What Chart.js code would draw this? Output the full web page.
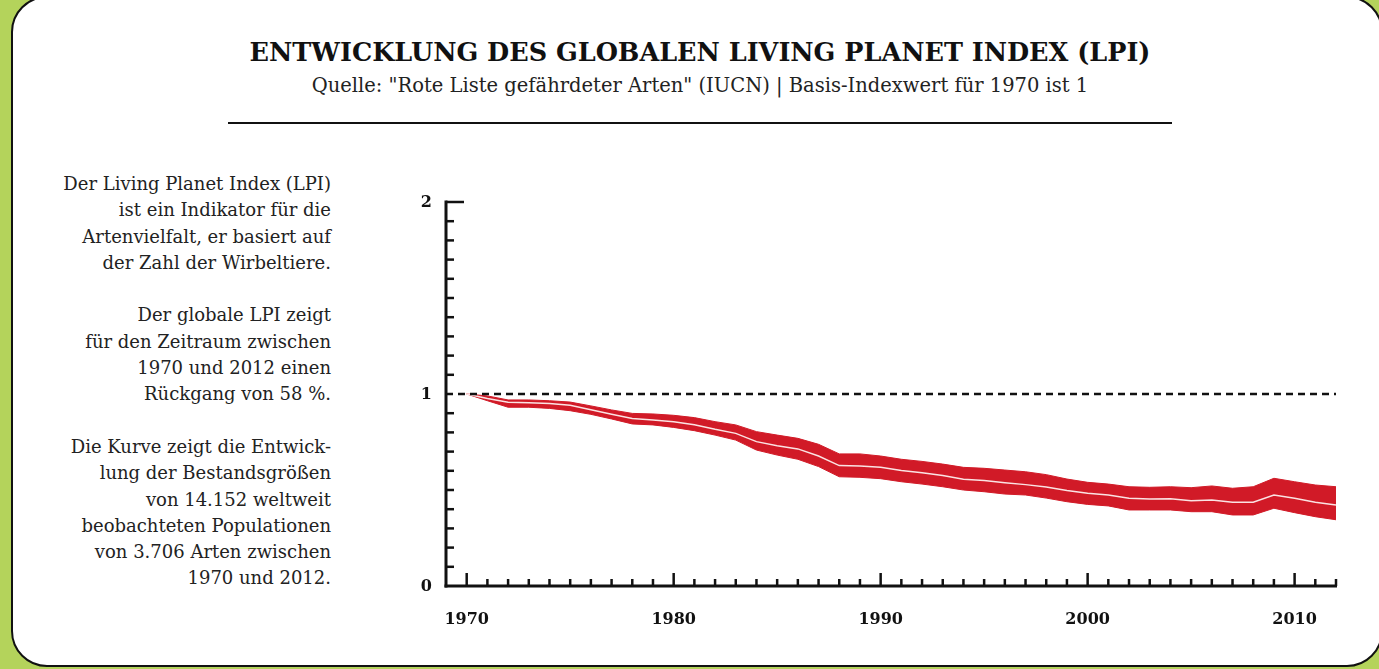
<!DOCTYPE html>
<html>
<head>
<meta charset="utf-8">
<script src="https://cdn.jsdelivr.net/npm/chart.js@4"></script>
<style>
html, body { margin: 0; padding: 0; width: 1379px; height: 669px; overflow: hidden; background: #b4d35b; }
#box { position: absolute; left: 11px; top: -4px; width: 1372px; height: 671px; box-sizing: border-box;
       background: #fff; border: 2px solid #111; border-radius: 36px; }
#title { position: absolute; left: 0; width: 1400px; top: 37px; text-align: center;
         font: bold 25.5px "DejaVu Serif", serif; color: #111; }
#subtitle { position: absolute; left: 0; width: 1400px; top: 74px; text-align: center;
            font: 19.5px "DejaVu Serif", serif; color: #222; }
#rule { position: absolute; left: 228px; top: 122px; width: 944px; height: 2px; background: #111; }
#intro { position: absolute; right: 1048px; top: 171px; text-align: right;
         font: 18px "DejaVu Serif", serif; line-height: 26.3px; color: #222; }
#intro p { margin: 0 0 26.3px 0; }
canvas { position: absolute; left: 0; top: 0; }
</style>
</head>
<body>
<div id="box"></div>
<div id="title">ENTWICKLUNG DES GLOBALEN LIVING PLANET INDEX (LPI)</div>
<div id="subtitle">Quelle: "Rote Liste gefährdeter Arten" (IUCN) | Basis-Indexwert für 1970 ist 1</div>
<div id="rule"></div>
<div id="intro">
  <p>Der Living Planet Index (LPI)<br>ist ein Indikator für die<br>Artenvielfalt, er basiert auf<br>der Zahl der Wirbeltiere.</p>
  <p>Der globale LPI zeigt<br>für den Zeitraum zwischen<br>1970 und 2012 einen<br>Rückgang von 58 %.</p>
  <p>Die Kurve zeigt die Entwick-<br>lung der Bestandsgrößen<br>von 14.152 weltweit<br>beobachteten Populationen<br>von 3.706 Arten zwischen<br>1970 und 2012.</p>
</div>
<canvas id="lpiChart" width="1379" height="669"></canvas>

<script>
// data
var years = [1970, 1971, 1972, 1973, 1974, 1975, 1976, 1977, 1978, 1979,
    1980, 1981, 1982, 1983, 1984, 1985, 1986, 1987, 1988, 1989,
    1990, 1991, 1992, 1993, 1994, 1995, 1996, 1997, 1998, 1999,
    2000, 2001, 2002, 2003, 2004, 2005, 2006, 2007, 2008, 2009,
    2010, 2011, 2012];

var lpiIndex = [1.000, 0.977, 0.957, 0.955, 0.951, 0.941, 0.918, 0.894, 0.872, 0.865,
    0.856, 0.840, 0.816, 0.795, 0.752, 0.731, 0.714, 0.677, 0.627, 0.625,
    0.618, 0.601, 0.590, 0.576, 0.556, 0.549, 0.538, 0.528, 0.516, 0.497,
    0.483, 0.474, 0.457, 0.453, 0.455, 0.444, 0.448, 0.436, 0.436, 0.474,
    0.457, 0.436, 0.422];

var upperBound = [1.000, 0.990, 0.969, 0.969, 0.965, 0.958, 0.938, 0.917, 0.899, 0.896,
    0.889, 0.877, 0.856, 0.839, 0.804, 0.786, 0.769, 0.738, 0.688, 0.688,
    0.677, 0.660, 0.649, 0.635, 0.618, 0.613, 0.604, 0.595, 0.580, 0.557,
    0.540, 0.531, 0.517, 0.514, 0.517, 0.512, 0.521, 0.509, 0.517, 0.561,
    0.543, 0.526, 0.517];

var lowerBound = [1.000, 0.965, 0.931, 0.931, 0.925, 0.913, 0.894, 0.870, 0.844, 0.839,
    0.826, 0.809, 0.786, 0.760, 0.708, 0.682, 0.660, 0.622, 0.569, 0.566,
    0.559, 0.543, 0.531, 0.517, 0.500, 0.491, 0.479, 0.474, 0.458, 0.439,
    0.425, 0.417, 0.396, 0.396, 0.396, 0.387, 0.387, 0.370, 0.370, 0.405,
    0.382, 0.361, 0.345];

var xTickLabels = [1970, 1980, 1990, 2000, 2010];
var yTickLabels = [0, 1, 2];
var baseValue = 1;

function points(values) {
    return years.map(function (yr, i) { return { x: yr, y: values[i] }; });
}

// axes with inward ticks, drawn through the chart scales
var axesDrawer = {
    id: 'axesDrawer',
    afterDatasetsDraw: function (chart) {
        var ctx = chart.ctx;
        var xs = chart.scales.x, ys = chart.scales.y;
        var x0 = xs.getPixelForValue(xs.min), x1 = xs.getPixelForValue(xs.max);
        var y0 = ys.getPixelForValue(0), y2 = ys.getPixelForValue(2);
        ctx.save();
        ctx.strokeStyle = '#111';
        ctx.fillStyle = '#111';

        // dashed base line
        var yb = ys.getPixelForValue(baseValue);
        ctx.lineWidth = 2.5;
        ctx.setLineDash([7, 5]);
        ctx.beginPath();
        ctx.moveTo(x0, yb);
        ctx.lineTo(x1, yb);
        ctx.stroke();
        ctx.setLineDash([]);

        // y axis
        ctx.lineWidth = 3;
        ctx.beginPath();
        ctx.moveTo(x0, y2 - 1.5);
        ctx.lineTo(x0, y0 + 1.5);
        ctx.stroke();
        ctx.lineWidth = 2.5;
        for (var v = 1; v < 20; v++) {
            if (v === 10) continue;
            var py = ys.getPixelForValue(v / 10);
            ctx.beginPath();
            ctx.moveTo(x0, py);
            ctx.lineTo(x0 + 8, py);
            ctx.stroke();
        }
        ctx.beginPath();
        ctx.moveTo(x0, y2);
        ctx.lineTo(x0 + 18, y2);
        ctx.stroke();

        // x axis
        ctx.lineWidth = 3;
        ctx.beginPath();
        ctx.moveTo(x0 - 1.5, y0);
        ctx.lineTo(x1 + 1, y0);
        ctx.stroke();
        ctx.lineWidth = 2.5;
        years.forEach(function (yr) {
            var px = xs.getPixelForValue(yr);
            var len = (yr % 10 === 0) ? 13 : 7;
            ctx.beginPath();
            ctx.moveTo(px, y0);
            ctx.lineTo(px, y0 - len);
            ctx.stroke();
        });

        // tick labels
        ctx.font = 'bold 16px "DejaVu Serif", serif';
        ctx.textAlign = 'center';
        ctx.textBaseline = 'middle';
        xTickLabels.forEach(function (yr) {
            ctx.fillText(String(yr), xs.getPixelForValue(yr), y0 + 34);
        });
        ctx.font = 'bold 16px "DejaVu Serif", serif';
        ctx.textAlign = 'right';
        yTickLabels.forEach(function (v) {
            ctx.fillText(String(v), x0 - 14, ys.getPixelForValue(v) + 1);
        });
        ctx.restore();
    }
};

var ctx = document.getElementById('lpiChart').getContext('2d');
var chart = new Chart(ctx, {
    type: 'line',
    data: {
        datasets: [{
            label: 'Obere Grenze',
            data: points(upperBound),
            borderColor: '#d11a27',
            backgroundColor: '#d11a27',
            borderWidth: 1,
            pointRadius: 0,
            fill: '+1',
            order: 2
        }, {
            label: 'Untere Grenze',
            data: points(lowerBound),
            borderColor: '#d11a27',
            borderWidth: 1,
            pointRadius: 0,
            fill: false,
            order: 1
        }, {
            label: 'LPI',
            data: points(lpiIndex),
            borderColor: '#fbe3e3',
            borderWidth: 1.5,
            pointRadius: 0,
            fill: false,
            order: 0
        }]
    },
    options: {
        responsive: false,
        animation: false,
        layout: { padding: { left: 446, right: 43, top: 202, bottom: 83 } },
        plugins: { legend: { display: false }, tooltip: { enabled: false } },
        scales: {
            x: { type: 'linear', min: 1969, max: 2012, display: false },
            y: { min: 0, max: 2, display: false }
        }
    },
    plugins: [axesDrawer]
});
</script>
</body>
</html>
